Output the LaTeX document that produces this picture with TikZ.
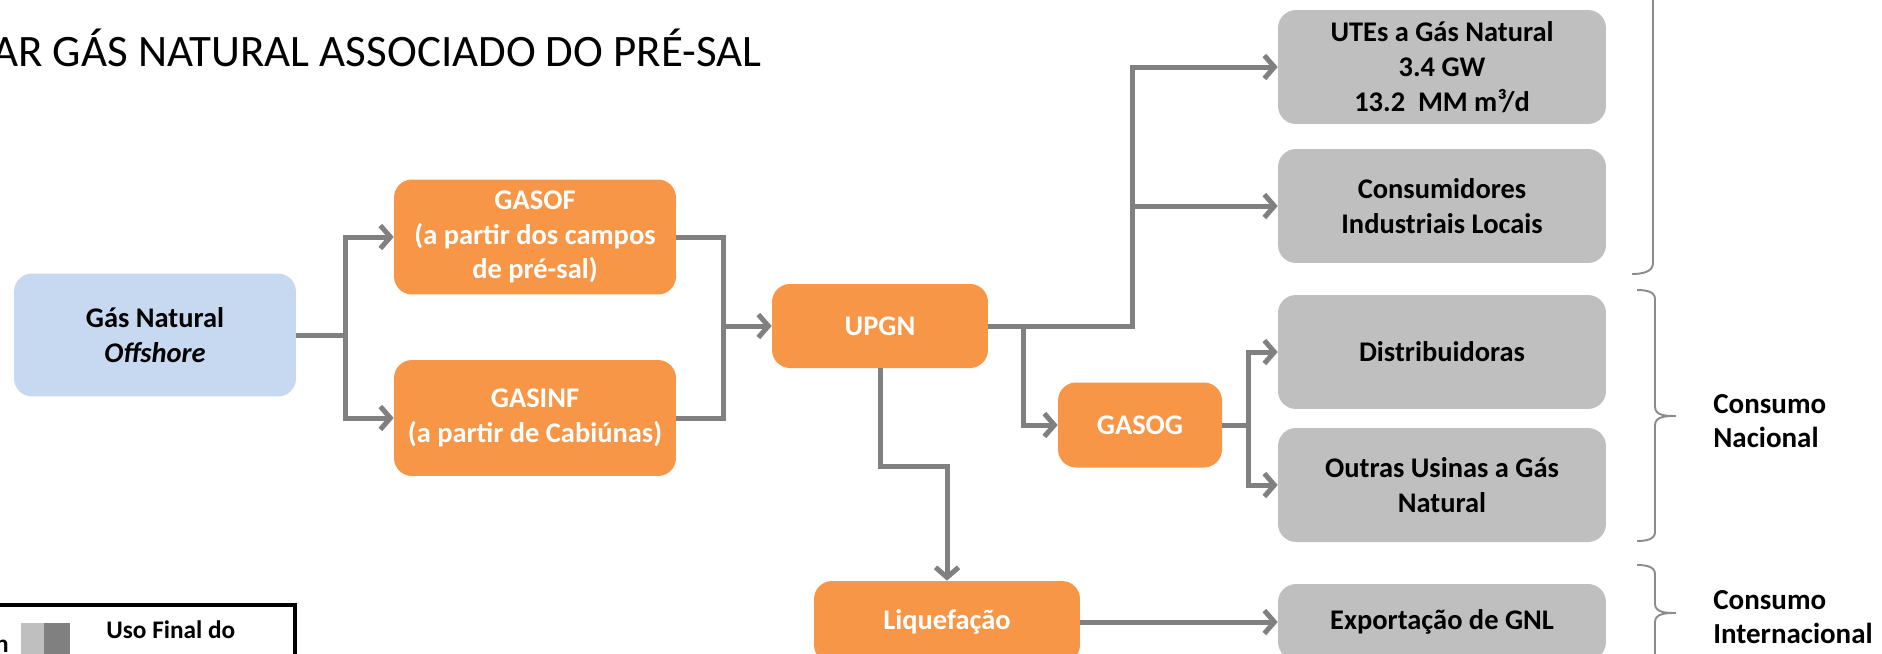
\documentclass[tikz,border=0pt]{standalone}
\usepackage{fontspec}
\setmainfont{Carlito}
\usetikzlibrary{arrows.meta,positioning}
\definecolor{laranja}{RGB}{247,150,70}
\definecolor{azulclaro}{RGB}{198,217,241}
\definecolor{cinzacaixa}{RGB}{191,191,191}
\definecolor{cinzalinha}{RGB}{128,128,128}
\definecolor{cinzachave}{RGB}{140,140,140}

\tikzset{
  caixa/.style={rounded corners=0.36cm, align=center, inner sep=0pt, font=\bfseries\fontsize{16.2}{19.8}\selectfont},
  caixalar/.style={caixa, fill=laranja, text=white},
  caixacinza/.style={caixa, fill=cinzacaixa, minimum width=6.56cm, minimum height=2.28cm},
  linha/.style={cinzalinha, line width=2.85pt},
  seta/.style={linha, -{Straight Barb[length=0.2cm,width=0.46cm]}},
  chave/.style={cinzachave, line width=1.1pt},
  rotulo/.style={align=left, inner sep=0pt, font=\bfseries\fontsize{16.5}{19}\selectfont},
}

\begin{document}
\begin{tikzpicture}[x=0.02cm, y=-0.02cm]
    \useasboundingbox (0,0) rectangle (1882,653);
    \clip (0,0) rectangle (1882,653);

    % Titulo
    \node[anchor=base east, inner sep=0pt, font=\fontsize{25.6}{30}\selectfont] (titulo) at (762,66) {AR GÁS NATURAL ASSOCIADO DO PRÉ-SAL};

    % Origem
    \node[caixa, fill=azulclaro, minimum width=5.64cm, minimum height=2.46cm] (gas) at (155,335) {Gás Natural\\\textit{Offshore}};

    % Gasodutos
    \node[caixalar, minimum width=5.64cm, minimum height=2.30cm] (gasof) at (535,237) {GASOF\\(a partir dos campos\\de pré-sal)};
    \node[caixalar, minimum width=5.64cm, minimum height=2.32cm] (gasinf) at (535,418) {GASINF\\(a partir de Cabiúnas)};
    \coordinate (j1) at (345,335);
    \draw[seta] (gas.east) -- (j1) |- (gasof.west);
    \draw[seta] (j1) |- (gasinf.west);

    % UPGN
    \node[caixalar, minimum width=4.32cm, minimum height=1.68cm] (upgn) at (880,326) {UPGN};
    \coordinate (j2) at (723,326);
    \draw[linha] (gasof.east) -| (j2);
    \draw[linha] (gasinf.east) -| (j2);
    \draw[seta] (j2) -- (upgn.west);

    % Consumo local
    \node[caixacinza] (utes) at (1442,67) {UTEs a Gás Natural\\3.4 GW\\13.2~~MM m³/d};
    \node[caixacinza] (cons) at (1442,206) {Consumidores\\Industriais Locais};
    \coordinate (j3) at (1132,326);
    \draw[seta] (upgn.east) -- (j3) |- (utes.west);
    \draw[seta] (j3) |- (cons.west);

    % GASOG
    \node[caixalar, minimum width=3.28cm, minimum height=1.70cm] (gasog) at (1140,425) {GASOG};
    \coordinate (j4) at (1023,326);
    \draw[seta] (j4) |- (gasog.west);

    \node[caixacinza] (dist) at (1442,352) {Distribuidoras};
    \node[caixacinza] (outras) at (1442,485) {Outras Usinas a Gás\\Natural};
    \coordinate (j5) at (1248,425);
    \draw[seta] (gasog.east) -- (j5) |- (dist.west);
    \draw[seta] (j5) |- (outras.west);

    % GNL
    \node[caixalar, minimum width=5.32cm, minimum height=1.64cm] (liq) at (947,622) {Liquefação};
    \coordinate (j6) at (947,466);
    \draw[seta] (upgn.south) |- (j6) -- (liq.north);
    \node[caixacinza, minimum height=1.52cm] (export) at (1442,622) {Exportação de GNL};
    \draw[seta] (liq.east) -- (export.west);

    % Chaves
    \draw[chave] (1653,-20) -- (1653,263) to[out=-90,in=0] (1632,274);
    \draw[chave] (1637,290) to[out=0,in=90] (1655,299) -- (1655,407) to[out=-90,in=180] (1676,416)
        to[out=180,in=90] (1655,425) -- (1655,532) to[out=-90,in=0] (1637,541);
    \draw[chave] (1637,565) to[out=0,in=90] (1655,574) -- (1655,604) to[out=-90,in=180] (1676,613)
        to[out=180,in=90] (1655,622) -- (1655,680);
    \node[rotulo, anchor=west] (nacional) at (1713,421) {Consumo\\Nacional};
    \node[rotulo, anchor=west] (internac) at (1713,617) {Consumo\\Internacional};

    % Legenda
    \draw[line width=2.3pt] (-20,605) rectangle (295,700);
    \fill[cinzacaixa] (21,623) rectangle (44,700);
    \fill[cinzalinha] (44,623) rectangle (70,700);
    \node[anchor=base west, inner sep=0pt, font=\bfseries\fontsize{14.4}{17}\selectfont] (leguso) at (106,638) {Uso Final do};
    \node[anchor=base east, inner sep=0pt, font=\bfseries\fontsize{14.4}{17}\selectfont] (legn) at (9,652) {n};
\end{tikzpicture}
\end{document}
